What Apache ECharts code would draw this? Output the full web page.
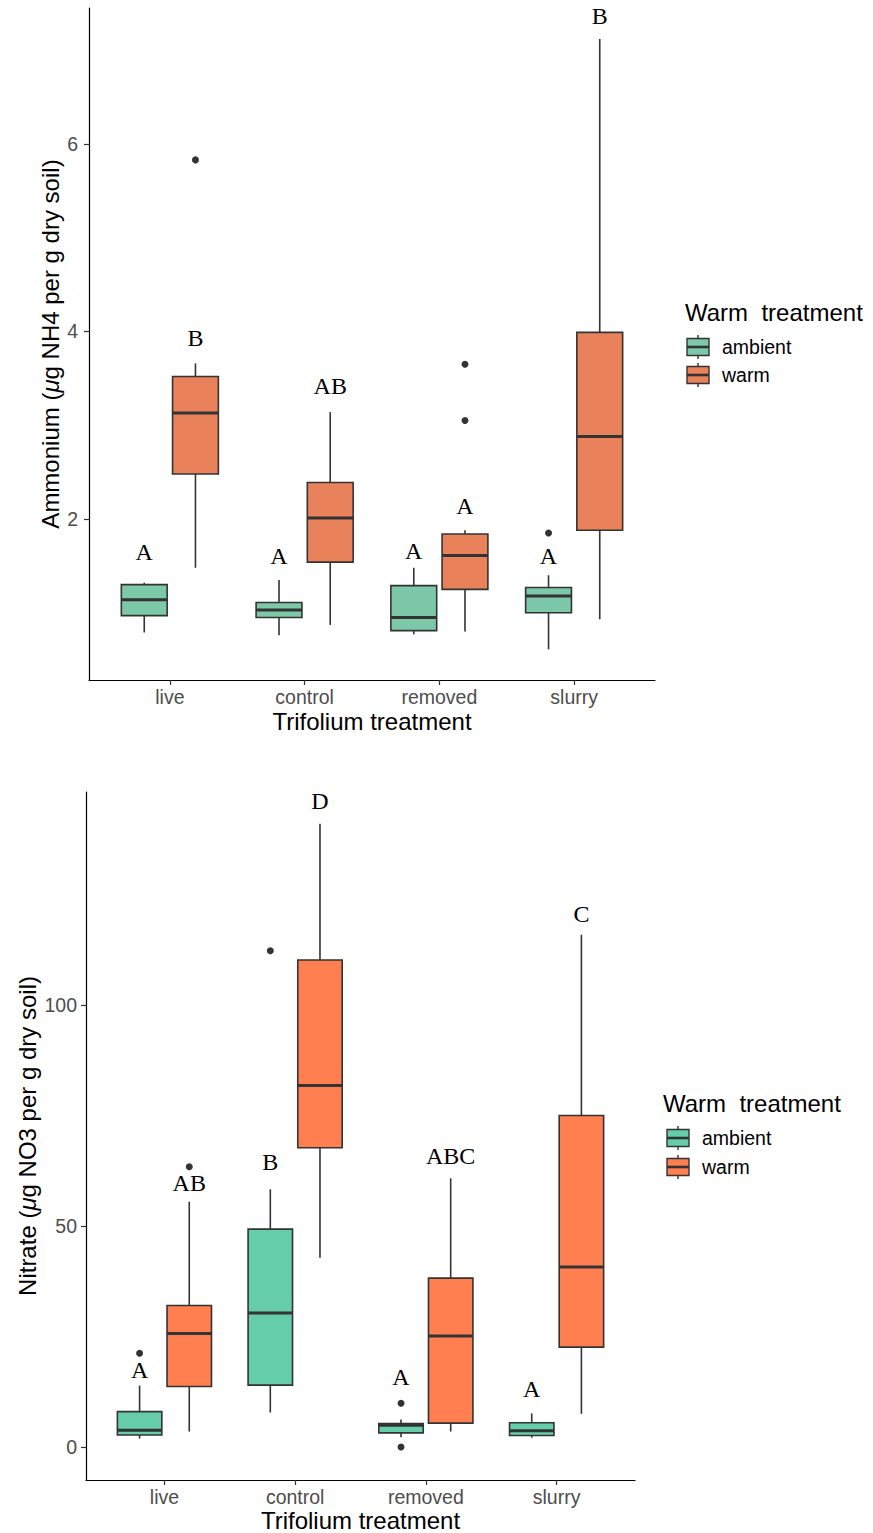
<!DOCTYPE html>
<html><head><meta charset="utf-8">
<script src="https://cdn.jsdelivr.net/npm/echarts@6/dist/echarts.min.js"></script>
<style>html,body{margin:0;padding:0;background:#fff}#c{width:873px;height:1533px}</style>
</head><body><div id="c"></div>
<script>
const categories = ['live', 'control', 'removed', 'slurry'];
const groups = ['ambient', 'warm'];
const nh4TickValues = [2, 4, 6];
const no3TickValues = [0, 50, 100];

// Ammonium: [min, Q1, median, Q3, max] per category
const nh4Ambient = [[0.79, 0.97, 1.14, 1.30, 1.32], [0.76, 0.95, 1.03, 1.11, 1.35], [0.77, 0.81, 0.95, 1.29, 1.48], [0.61, 1.00, 1.18, 1.27, 1.40]];
const nh4Warm = [[1.48, 2.48, 3.13, 3.52, 3.66], [0.87, 1.54, 2.01, 2.39, 3.14], [0.80, 1.25, 1.61, 1.84, 1.88], [0.93, 1.88, 2.88, 3.99, 7.12]];
// outliers: [category number (1-based), value]
const nh4AmbientOutliers = [[4, 1.85]];
const nh4WarmOutliers = [[1, 5.83], [3, 3.65], [3, 3.05]];
const nh4AmbientLetters = ['A', 'A', 'A', 'A'];
const nh4AmbientLetterY = [1.65, 1.61, 1.66, 1.61];
const nh4WarmLetters = ['B', 'AB', 'A', 'B'];
const nh4WarmLetterY = [3.93, 3.42, 2.14, 7.36];

// Nitrate
const no3Ambient = [[1.9, 2.7, 3.8, 8.0, 13.9], [7.8, 14.0, 30.3, 49.3, 58.3], [2.2, 3.2, 4.9, 5.3, 6.2], [2.1, 2.6, 3.7, 5.5, 7.6]];
const no3Warm = [[3.5, 13.7, 25.7, 32.0, 55.5], [42.8, 67.7, 81.8, 110.2, 141.0], [3.5, 5.4, 25.1, 38.2, 60.8], [7.5, 22.6, 40.7, 75.0, 115.9]];
const no3AmbientOutliers = [[1, 21.2], [2, 112.3], [3, 9.9], [3, 0.0]];
const no3WarmOutliers = [[1, 63.4]];
const no3AmbientLetters = ['A', 'B', 'A', 'A'];
const no3AmbientLetterY = [17.4, 64.5, 15.8, 13.1];
const no3WarmLetters = ['AB', 'D', 'ABC', 'C'];
const no3WarmLetterY = [59.7, 146.2, 65.8, 120.6];

const OFF = 0.19, HALF = 0.17;
const C = {
  top: {ambient: '#7DC8A8', warm: '#E9825B'},
  bot: {ambient: '#66CDAA', warm: '#FF7F50'}
};

function boxRender(off, fill) {
  return function (params, api) {
    const x = api.value(0) + off;
    const pMin = api.coord([x, api.value(1)]);
    const pQ1 = api.coord([x, api.value(2)]);
    const pMd = api.coord([x, api.value(3)]);
    const pQ3 = api.coord([x, api.value(4)]);
    const pMax = api.coord([x, api.value(5)]);
    const left = api.coord([x - HALF, 0])[0];
    const right = api.coord([x + HALF, 0])[0];
    const ls = {stroke: '#333333', lineWidth: 1.6};
    return {type: 'group', children: [
      {type: 'line', shape: {x1: pMin[0], y1: pMin[1], x2: pQ1[0], y2: pQ1[1]}, style: ls},
      {type: 'line', shape: {x1: pQ3[0], y1: pQ3[1], x2: pMax[0], y2: pMax[1]}, style: ls},
      {type: 'rect', shape: {x: left, y: pQ3[1], width: right - left, height: pQ1[1] - pQ3[1]}, style: {fill: fill, stroke: '#333333', lineWidth: 1.6}},
      {type: 'line', shape: {x1: left, y1: pMd[1], x2: right, y2: pMd[1]}, style: {stroke: '#333333', lineWidth: 3}}
    ]};
  };
}
function letterRender(off, letters) {
  return function (params, api) {
    const p = api.coord([api.value(0) + off, api.value(1)]);
    return {type: 'text', x: p[0], y: p[1], style: {
      text: letters[params.dataIndex], fill: '#000', fontSize: 24, fontFamily: 'Liberation Serif',
      align: 'center', verticalAlign: 'middle'}};
  };
}
function panelSeries(idx, amb, warm, ambOut, warmOut, ambL, ambLY, warmL, warmLY, col) {
  const ax = {xAxisIndex: idx, yAxisIndex: idx};
  return [
    Object.assign({type: 'custom', name: 'ambient', renderItem: boxRender(-OFF, col.ambient),
      data: amb.map((d, i) => [i + 1].concat(d)), silent: true}, ax),
    Object.assign({type: 'custom', name: 'warm', renderItem: boxRender(OFF, col.warm),
      data: warm.map((d, i) => [i + 1].concat(d)), silent: true}, ax),
    Object.assign({type: 'scatter', symbolSize: 7, itemStyle: {color: '#333333', opacity: 1}, silent: true,
      data: ambOut.map(d => [d[0] - OFF, d[1]])}, ax),
    Object.assign({type: 'scatter', symbolSize: 7, itemStyle: {color: '#333333', opacity: 1}, silent: true,
      data: warmOut.map(d => [d[0] + OFF, d[1]])}, ax),
    Object.assign({type: 'custom', renderItem: letterRender(-OFF, ambL), silent: true,
      data: ambLY.map((y, i) => [i + 1, y])}, ax),
    Object.assign({type: 'custom', renderItem: letterRender(OFF, warmL), silent: true,
      data: warmLY.map((y, i) => [i + 1, y])}, ax)
  ];
}
function xAxisDef(idx, nameGap) {
  return {type: 'value', gridIndex: idx, min: 0.4, max: 4.6,
    name: 'Trifolium treatment', nameLocation: 'middle', nameGap: nameGap,
    nameTextStyle: {fontSize: 24, color: '#000', fontFamily: 'Liberation Sans'},
    axisLine: {show: true, onZero: false, lineStyle: {color: '#000', width: 1.2}},
    axisTick: {show: true, length: 5, customValues: [1, 2, 3, 4], lineStyle: {color: '#333', width: 1.2}},
    axisLabel: {customValues: [1, 2, 3, 4], formatter: v => categories[Math.round(v) - 1] || '',
      fontSize: 19.5, color: '#4D4D4D', fontFamily: 'Liberation Sans', margin: 7},
    splitLine: {show: false}};
}
function yAxisDef(idx, min, max, ticks, name, nameGap, margin) {
  return {type: 'value', gridIndex: idx, min: min, max: max,
    name: name, nameLocation: 'middle', nameGap: nameGap, nameRotate: 90, nameMoveOverlap: false,
    nameTextStyle: {fontSize: 24, color: '#000', fontFamily: 'Liberation Sans',
      rich: {it: {fontStyle: 'italic', fontSize: 24, color: '#000', fontFamily: 'Liberation Sans'}}},
    axisLine: {show: true, onZero: false, lineStyle: {color: '#000', width: 1.2}},
    axisTick: {show: true, length: 5, customValues: ticks, lineStyle: {color: '#333', width: 1.2}},
    axisLabel: {customValues: ticks, fontSize: 19.5, color: '#4D4D4D', fontFamily: 'Liberation Sans', margin: margin},
    splitLine: {show: false}};
}
function legendGraphic(tx, ty, kx, y1, y2, col) {
  const items = [];
  items.push({type: 'text', x: tx, y: ty, style: {text: 'Warm  treatment', fontSize: 24, fill: '#000',
    fontFamily: 'Liberation Sans', align: 'left', verticalAlign: 'middle'}});
  [[y1, col.ambient, groups[0]], [y2, col.warm, groups[1]]].forEach(([y, c, lab]) => {
    items.push({type: 'line', shape: {x1: kx, y1: y - 12, x2: kx, y2: y + 12}, style: {stroke: '#333', lineWidth: 1.4}});
    items.push({type: 'rect', shape: {x: kx - 11, y: y - 8.5, width: 22, height: 17}, style: {fill: c, stroke: '#333', lineWidth: 1.4}});
    items.push({type: 'line', shape: {x1: kx - 11, y1: y, x2: kx + 11, y2: y}, style: {stroke: '#333', lineWidth: 2.6}});
    items.push({type: 'text', x: kx + 24, y: y, style: {text: lab, fontSize: 19.5, fill: '#000',
      fontFamily: 'Liberation Sans', align: 'left', verticalAlign: 'middle'}});
  });
  return items;
}

const chart = echarts.init(document.getElementById('c'), null, {renderer: 'svg', width: 873, height: 1533});
chart.setOption({
  backgroundColor: '#fff',
  animation: false,
  grid: [
    {left: 89, top: 8, width: 566, height: 672, containLabel: false, outerBoundsMode: 'none'},
    {left: 86, top: 792, width: 549, height: 688, containLabel: false, outerBoundsMode: 'none'}
  ],
  xAxis: [xAxisDef(0, 29), xAxisDef(1, 28)],
  yAxis: [
    yAxisDef(0, 0.283, 7.45, nh4TickValues, 'Ammonium ({it|μ}g NH4 per g dry soil)', 27, 11),
    yAxisDef(1, -7.47, 148.2, no3TickValues, 'Nitrate ({it|μ}g NO3 per g dry soil)', 47, 9)
  ],
  series: [].concat(
    panelSeries(0, nh4Ambient, nh4Warm, nh4AmbientOutliers, nh4WarmOutliers,
      nh4AmbientLetters, nh4AmbientLetterY, nh4WarmLetters, nh4WarmLetterY, C.top),
    panelSeries(1, no3Ambient, no3Warm, no3AmbientOutliers, no3WarmOutliers,
      no3AmbientLetters, no3AmbientLetterY, no3WarmLetters, no3WarmLetterY, C.bot)
  ),
  graphic: [].concat(
    legendGraphic(685, 312, 698, 347, 375, C.top),
    legendGraphic(663, 1103, 678, 1138, 1167, C.bot)
  )
});
</script></body></html>
